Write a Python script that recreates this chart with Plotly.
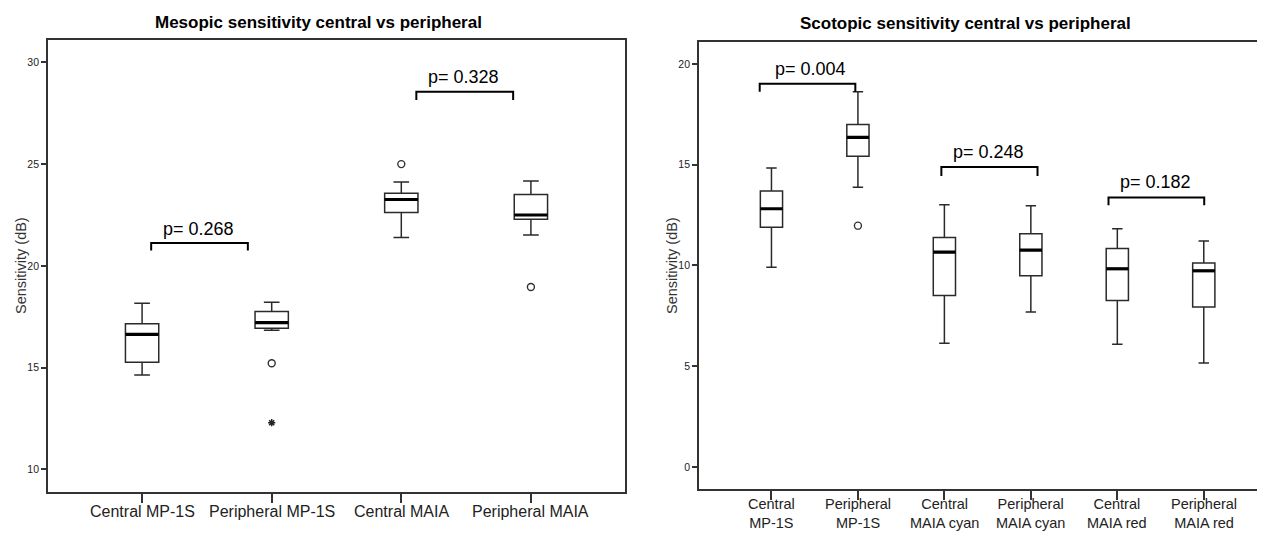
import plotly.graph_objects as go

# ---------------- data: mesopic (left) ----------------
meso_cats = ["Central MP-1S", "Peripheral MP-1S", "Central MAIA", "Peripheral MAIA"]
meso_low = [14.64, 16.83, 21.39, 21.52]
meso_q1 = [15.26, 16.93, 22.62, 22.29]
meso_med = [16.63, 17.21, 23.26, 22.50]
meso_q3 = [17.16, 17.76, 23.57, 23.51]
meso_high = [18.16, 18.21, 24.12, 24.17]
meso_out_x = [1, 2, 3]
meso_out_y = [15.21, 25.0, 18.96]
meso_ext_x = [1]
meso_ext_y = [12.29]
meso_p_text = ["p= 0.268", "p= 0.328"]
meso_p_left = [0.07, 2.116]
meso_p_right = [0.816, 2.863]
meso_p_top = [21.12, 28.56]
meso_p_end = [20.75, 28.15]
meso_p_label_x = [0.434, 2.48]
meso_p_label_y = [21.8, 29.3]
meso_yticks = [10, 15, 20, 25, 30]

# ---------------- data: scotopic (right) ----------------
scot_line1 = ["Central", "Peripheral", "Central", "Peripheral", "Central", "Peripheral"]
scot_line2 = ["MP-1S", "MP-1S", "MAIA cyan", "MAIA cyan", "MAIA red", "MAIA red"]
scot_low = [9.90, 13.87, 6.13, 7.68, 6.08, 5.15]
scot_q1 = [11.89, 15.42, 8.50, 9.49, 8.25, 7.93]
scot_med = [12.81, 16.35, 10.66, 10.76, 9.83, 9.73]
scot_q3 = [13.69, 16.99, 11.38, 11.57, 10.84, 10.12]
scot_high = [14.83, 18.62, 13.01, 12.96, 11.82, 11.21]
scot_out_x = [1]
scot_out_y = [11.97]
scot_p_text = ["p= 0.004", "p= 0.248", "p= 0.182"]
scot_p_left = [-0.136, 1.965, 3.898]
scot_p_right = [0.97, 3.077, 5.005]
scot_p_top = [19.01, 14.88, 13.37]
scot_p_end = [18.62, 14.44, 12.98]
scot_p_label_x = [0.446, 2.51, 4.437]
scot_p_label_y = [19.75, 15.64, 14.12]
scot_yticks = [0, 5, 10, 15, 20]

FONT = "Liberation Sans, Arial, sans-serif"
OFF = 8  # page body margin
W, H = 1265 - OFF, 533 - OFF
BOXW = 0.257


def px(x):
    return (x - OFF) / W


def py(y):
    return 1 - (y - OFF) / H


fig = go.Figure()


def add_panel(xa, ya, low, q1, med, q3, high, boxw):
    for i in range(len(med)):
        fig.add_trace(go.Box(
            x=[i], q1=[q1[i]], median=[med[i]], q3=[q3[i]],
            lowerfence=[low[i]], upperfence=[high[i]],
            width=boxw, whiskerwidth=0.47, fillcolor="white",
            line=dict(color="#2a2a2a", width=1.5),
            boxpoints=False, showlegend=False, hoverinfo="skip",
            xaxis=xa, yaxis=ya))
        fig.add_trace(go.Scatter(
            x=[i - boxw / 2, i + boxw / 2], y=[med[i], med[i]], mode="lines",
            line=dict(color="black", width=3.2), showlegend=False,
            hoverinfo="skip", xaxis=xa, yaxis=ya))


def add_brackets(xa, ya, left, right, top, end, texts, lx, ly):
    for i in range(len(texts)):
        fig.add_trace(go.Scatter(
            x=[left[i], left[i], right[i], right[i]],
            y=[end[i], top[i], top[i], end[i]], mode="lines",
            line=dict(color="black", width=2), showlegend=False,
            hoverinfo="skip", xaxis=xa, yaxis=ya))
        fig.add_annotation(x=lx[i], y=ly[i], xref=xa, yref=ya, text=texts[i],
                           showarrow=False, font=dict(size=18, color="black", family=FONT),
                           xanchor="center", yanchor="middle")


add_panel("x", "y", meso_low, meso_q1, meso_med, meso_q3, meso_high, BOXW)
add_panel("x2", "y2", scot_low, scot_q1, scot_med, scot_q3, scot_high, BOXW)

fig.add_trace(go.Scatter(x=meso_out_x, y=meso_out_y, mode="markers",
                         marker=dict(symbol="circle-open", size=7, color="#333",
                                     line=dict(width=1.4)),
                         showlegend=False, hoverinfo="skip", xaxis="x", yaxis="y"))
fig.add_trace(go.Scatter(x=meso_ext_x, y=meso_ext_y, mode="markers",
                         marker=dict(symbol="asterisk-open", size=6, color="#222",
                                     line=dict(width=1.5, color="#222")),
                         showlegend=False, hoverinfo="skip", xaxis="x", yaxis="y"))
fig.add_trace(go.Scatter(x=scot_out_x, y=scot_out_y, mode="markers",
                         marker=dict(symbol="circle-open", size=7, color="#333",
                                     line=dict(width=1.4)),
                         showlegend=False, hoverinfo="skip", xaxis="x2", yaxis="y2"))

add_brackets("x", "y", meso_p_left, meso_p_right, meso_p_top, meso_p_end,
             meso_p_text, meso_p_label_x, meso_p_label_y)
add_brackets("x2", "y2", scot_p_left, scot_p_right, scot_p_top, scot_p_end,
             scot_p_text, scot_p_label_x, scot_p_label_y)

# category labels
for i, c in enumerate(meso_cats):
    fig.add_annotation(x=i, y=py(511), xref="x", yref="paper", text=c, showarrow=False,
                       font=dict(size=16, color="#222", family=FONT),
                       xanchor="center", yanchor="middle")
for i in range(len(scot_line1)):
    fig.add_annotation(x=i, y=py(513), xref="x2", yref="paper",
                       text=scot_line1[i] + "<br>" + scot_line2[i],
                       showarrow=False, font=dict(size=14.5, color="#222", family=FONT),
                       xanchor="center", yanchor="middle")

# titles
fig.add_annotation(x=px(318), y=py(22.5), xref="paper", yref="paper",
                   text="<b>Mesopic sensitivity central vs peripheral</b>", showarrow=False,
                   font=dict(size=17, color="black", family=FONT), xanchor="center", yanchor="middle")
fig.add_annotation(x=px(966), y=py(24), xref="paper", yref="paper",
                   text="<b>Scotopic sensitivity central vs peripheral</b>", showarrow=False,
                   font=dict(size=17, color="black", family=FONT), xanchor="center", yanchor="middle")
for xp in [21, 672]:
    fig.add_annotation(x=px(xp), y=py(266), xref="paper", yref="paper",
                       text="Sensitivity (dB)", textangle=-90, showarrow=False,
                       font=dict(size=14.5, color="#333", family=FONT),
                       xanchor="center", yanchor="middle")

axis_line = dict(showline=True, linecolor="#333", linewidth=1.7, showgrid=False,
                 zeroline=False, ticks="outside", tickcolor="#333", tickwidth=1.5)

fig.update_layout(
    width=W, height=H, margin=dict(l=0, r=0, t=0, b=0),
    paper_bgcolor="white", plot_bgcolor="white",
    font=dict(family=FONT, color="#222"),
    xaxis=dict(domain=[px(48), px(625)], range=[-0.726, 3.726], tickvals=[0, 1, 2, 3],
               showticklabels=False, ticklen=9, mirror=True, **axis_line),
    yaxis=dict(domain=[py(491.7), py(40)], range=[8.9, 31.1], tickvals=meso_yticks,
               ticklen=5, mirror=True, tickfont=dict(size=10.5, color="#222"), **axis_line),
    xaxis2=dict(domain=[px(699), 1.0], range=[-0.838, 5.708], tickvals=[0, 1, 2, 3, 4, 5],
                showticklabels=False, ticklen=9, mirror=True, anchor="y2", **axis_line),
    yaxis2=dict(domain=[py(489), py(41.7)], range=[-1.1, 21.1], tickvals=scot_yticks,
                ticklen=5, mirror=False, anchor="x2", tickfont=dict(size=10.5, color="#222"),
                **axis_line),
)

fig.write_html("out.html")
